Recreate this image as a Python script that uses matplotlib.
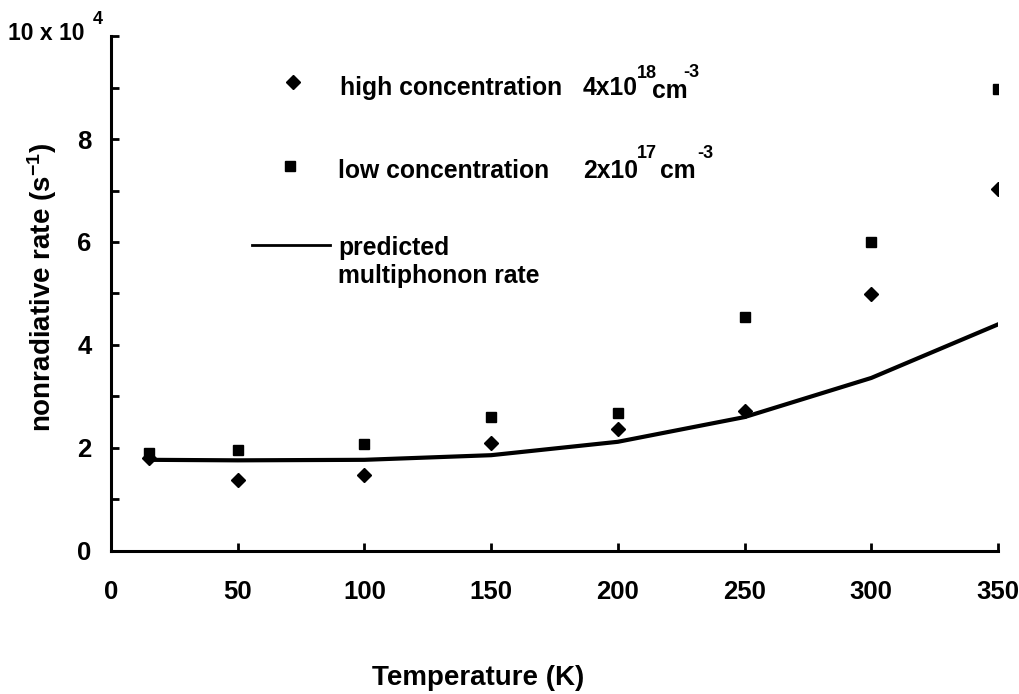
import matplotlib
matplotlib.use("Agg")
import matplotlib.pyplot as plt

# temperature (K)
temps = [15, 50, 100, 150, 200, 250, 300, 350]
# nonradiative rate, units of 1e4 s^-1
high_conc = [1.80, 1.38, 1.48, 2.10, 2.37, 2.71, 4.99, 7.02]
low_conc = [1.91, 1.97, 2.08, 2.61, 2.68, 4.55, 6.00, 8.97]
predicted = [1.77, 1.76, 1.77, 1.86, 2.12, 2.60, 3.36, 4.40]

x_ticks = [0, 50, 100, 150, 200, 250, 300, 350]
y_major = [0, 2, 4, 6, 8, 10]
y_minor = [1, 3, 5, 7, 9]
y_labels = ["0", "2", "4", "6", "8", ""]

plt.rcParams["font.family"] = ["Liberation Sans", "DejaVu Sans"]
plt.rcParams["font.weight"] = "bold"
plt.rcParams["mathtext.fontset"] = "custom"
plt.rcParams["mathtext.rm"] = "Liberation Sans:bold"
plt.rcParams["mathtext.bf"] = "Liberation Sans:bold"
plt.rcParams["mathtext.default"] = "bf"

fig = plt.figure(figsize=(10.19, 6.94), dpi=100)
ax = fig.add_axes([0.1089, 0.2061, 0.8705, 0.742])

ax.plot(temps, predicted, color="black", linewidth=3)
ax.plot(temps, low_conc, linestyle="none", marker="s", markersize=7.5, color="black")
ax.plot(temps, high_conc, linestyle="none", marker="D", markersize=7, color="black")

ax.set_xlim(0, 350)
ax.set_ylim(0, 10)
ax.set_xticks(x_ticks)
ax.set_xticklabels([str(t) for t in x_ticks])
ax.set_yticks(y_major)
ax.set_yticklabels(y_labels)
ax.set_yticks(y_minor, minor=True)

for side in ["top", "right"]:
    ax.spines[side].set_visible(False)
for side in ["left", "bottom"]:
    ax.spines[side].set_linewidth(2.2)

ax.tick_params(axis="both", which="both", direction="in", length=6, width=2, labelsize=18.5)
ax.tick_params(axis="x", pad=21)
ax.tick_params(axis="y", pad=14)
ax.xaxis.get_major_ticks()[0].tick1line.set_visible(False)
for lab in ax.get_xticklabels() + ax.get_yticklabels():
    lab.set_fontweight("bold")

# scale label at the top of the y axis
fig.text(8 / 1019, 1 - 34 / 694, "10 x 10", fontsize=16.5, ha="left", va="center")
fig.text(93 / 1019, 1 - 20 / 694, "4", fontsize=13, ha="left", va="center")

# axis titles
fig.text(42 / 1019, 1 - 287 / 694, r"nonradiative rate (s$^{-1}$)", fontsize=20,
         rotation=90, ha="center", va="center")
fig.text(478 / 1019, 1 - 678 / 694, "Temperature (K)", fontsize=20,
         ha="center", va="center")

# legend drawn by hand, as in the original figure
tr = ax.transAxes
ax.plot([0.205], [0.911], marker="D", markersize=7, color="black",
        transform=tr, clip_on=False)
ax.plot([0.202], [0.748], marker="s", markersize=7.5, color="black",
        transform=tr, clip_on=False)
ax.plot([0.159, 0.247], [0.594, 0.594], color="black", linewidth=2,
        transform=tr, clip_on=False)

fs = 17.8
sup = 13
ax.text(0.258, 0.885, "high concentration", fontsize=fs, transform=tr, va="baseline")
ax.text(0.532, 0.885, "4x10", fontsize=fs, transform=tr, va="baseline")
ax.text(0.593, 0.918, "18", fontsize=sup, transform=tr, va="baseline")
ax.text(0.610, 0.879, "cm", fontsize=fs, transform=tr, va="baseline")
ax.text(0.645, 0.920, "-3", fontsize=sup, transform=tr, va="baseline")

ax.text(0.256, 0.724, "low concentration", fontsize=fs, transform=tr, va="baseline")
ax.text(0.532, 0.724, "2x10", fontsize=fs, transform=tr, va="baseline")
ax.text(0.593, 0.763, "17", fontsize=sup, transform=tr, va="baseline")
ax.text(0.619, 0.724, "cm", fontsize=fs, transform=tr, va="baseline")
ax.text(0.661, 0.763, "-3", fontsize=sup, transform=tr, va="baseline")

ax.text(0.256, 0.575, "predicted", fontsize=fs, transform=tr, va="baseline")
ax.text(0.256, 0.520, "multiphonon rate", fontsize=fs, transform=tr, va="baseline")

fig.savefig("out.png", dpi=100)
